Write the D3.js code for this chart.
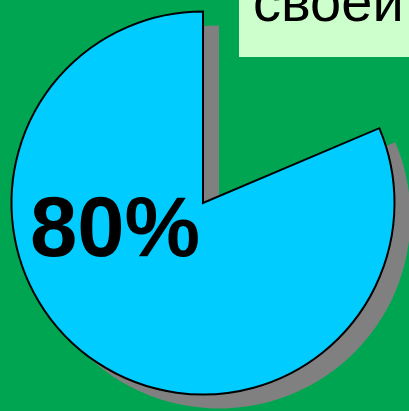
<!DOCTYPE html>
<html>
<head>
<meta charset="utf-8">
<script src="https://cdn.jsdelivr.net/npm/d3@7"></script>
<style>
  html, body { margin: 0; padding: 0; background: #00a551; overflow: hidden; }
</style>
</head>
<body>
<div id="chart-area"></div>
<script>

var width = 409,
    height = 411;

// Data
var labels = ["20%", "80%"];
var values = [20, 80];
var shownLabel = "80%";
var caption = "своей";

var svg = d3.select("#chart-area").append("svg")
    .attr("width", width)
    .attr("height", height);

svg.append("rect")
    .attr("width", width)
    .attr("height", height)
    .attr("fill", "#00a551");

// Angle scale: cumulative percent -> angle (rotated slightly like the original)
var angle = d3.scaleLinear()
    .domain([0, d3.sum(values)])
    .range([-0.109, 2 * Math.PI]);

var cum = 0;
var slices = values.map(function(v, i) {
    var s = { label: labels[i], value: v, startAngle: angle(cum), endAngle: angle(cum + v) };
    cum += v;
    return s;
}).filter(function(d) { return d.label === shownLabel; });

var arc = d3.arc()
    .innerRadius(0)
    .outerRadius(191.5);

// Shadow
svg.append("g")
    .attr("transform", "translate(219,217)")
    .selectAll(".shadow")
    .data(slices)
    .enter().append("path")
    .attr("class", "shadow")
    .attr("d", arc)
    .attr("fill", "#808080");

// Slice
svg.append("g")
    .attr("transform", "translate(203,203)")
    .selectAll(".slice")
    .data(slices)
    .enter().append("path")
    .attr("class", "slice")
    .attr("d", arc)
    .attr("fill", "#00ccff")
    .attr("stroke", "#000")
    .attr("stroke-width", 2)
    .attr("stroke-linejoin", "miter");

// Percentage label
svg.append("text")
    .attr("x", 30)
    .attr("y", 256)
    .attr("font-family", "Liberation Sans, Arial, sans-serif")
    .attr("font-weight", "bold")
    .attr("font-size", 85)
    .attr("fill", "#000")
    .text(shownLabel);

// Caption box (cut at the top)
svg.append("rect")
    .attr("x", 239)
    .attr("y", -10)
    .attr("width", 200)
    .attr("height", 67)
    .attr("fill", "#ccffcc");

svg.append("text")
    .attr("x", 253)
    .attr("y", 21)
    .attr("font-family", "Liberation Sans, Arial, sans-serif")
    .attr("font-size", 56)
    .attr("fill", "#000")
    .text(caption);

</script>
</body>
</html>
